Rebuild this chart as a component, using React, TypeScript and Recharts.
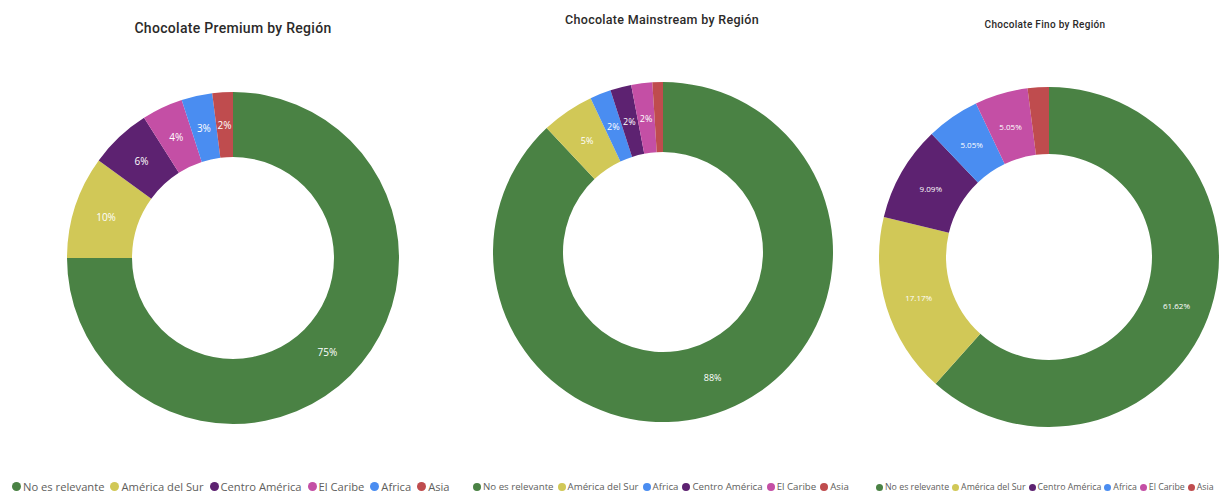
import React from 'react';
import { PieChart, Pie, Cell } from 'recharts';

// region names, in the order each chart lists them
const premiumRegions = ['No es relevante', 'América del Sur', 'Centro América', 'El Caribe', 'Africa', 'Asia'];
const mainstreamRegions = ['No es relevante', 'América del Sur', 'Africa', 'Centro América', 'El Caribe', 'Asia'];
const finoRegions = ['No es relevante', 'América del Sur', 'Centro América', 'Africa', 'El Caribe', 'Asia'];

// shares (%)
const premiumValues = [75, 10, 6, 4, 3, 2];
const mainstreamValues = [88, 5, 2, 2, 2, 1];
const finoValues = [61.62, 17.17, 9.09, 5.05, 5.05, 2.02];

const regionColors: Record<string, string> = {
  'No es relevante': '#4A8244',
  'América del Sur': '#D1C857',
  'Centro América': '#5D2271',
  'El Caribe': '#C44FA5',
  'Africa': '#4A8DF1',
  'Asia': '#BF4C4E',
};

const RADIAN = Math.PI / 180;

const toRows = (names: string[], values: number[]) => names.map((name, i) => ({ name, value: values[i] }));

function makeLabel(fontSize: number, minPct: number, decimals: number) {
  return (props: any) => {
    const { cx, cy, midAngle, innerRadius, outerRadius, percent } = props;
    if (percent * 100 < minPct) return null;
    const r = (innerRadius + outerRadius) / 2;
    const x = cx + r * Math.cos(-midAngle * RADIAN);
    const y = cy + r * Math.sin(-midAngle * RADIAN);
    return (
      <text x={x} y={y} fill="#fff" fontSize={fontSize} fontFamily="Open Sans" textAnchor="middle" dominantBaseline="central">
        {(percent * 100).toFixed(decimals)}%
      </text>
    );
  };
}

function Legend({ names, left, top, fontSize, dot, gap }: { names: string[]; left: number; top: number; fontSize: number; dot: number; gap: number }) {
  return (
    <div style={{ position: 'absolute', left, top, display: 'flex', alignItems: 'center', fontFamily: 'Open Sans', fontSize, color: '#605E5C', whiteSpace: 'nowrap' }}>
      {names.map(n => (
        <span key={n} style={{ display: 'flex', alignItems: 'center', marginRight: gap }}>
          <span style={{ width: dot, height: dot, borderRadius: '50%', background: regionColors[n], marginRight: 2, display: 'inline-block' }} />
          {n}
        </span>
      ))}
    </div>
  );
}

function Title({ text, cx, top, fontSize }: { text: string; cx: number; top: number; fontSize: number }) {
  return (
    <div style={{ position: 'absolute', left: cx - 200, width: 400, top, textAlign: 'center', fontFamily: 'Roboto', fontWeight: 500, fontSize, color: '#2B2A29', letterSpacing: 0.3 }}>
      {text}
    </div>
  );
}

export default function App() {
  const premium = toRows(premiumRegions, premiumValues);
  const mainstream = toRows(mainstreamRegions, mainstreamValues);
  const fino = toRows(finoRegions, finoValues);

  return (
    <div style={{ position: 'absolute', left: 0, top: 0, width: 1221, height: 494, background: '#fff', overflow: 'hidden' }}>
      <PieChart width={1221} height={494} margin={{ top: 0, right: 0, bottom: 0, left: 0 }}>
        <Pie data={premium} dataKey="value" cx={233} cy={258} innerRadius={101} outerRadius={166}
          startAngle={90} endAngle={-270} stroke="none" labelLine={false} label={makeLabel(10, 0, 0)} isAnimationActive={false}>
          {premium.map(d => <Cell key={d.name} fill={regionColors[d.name]} />)}
        </Pie>
        <Pie data={mainstream} dataKey="value" cx={663} cy={252} innerRadius={100} outerRadius={170}
          startAngle={90} endAngle={-270} stroke="none" labelLine={false} label={makeLabel(9, 1.5, 0)} isAnimationActive={false}>
          {mainstream.map(d => <Cell key={d.name} fill={regionColors[d.name]} />)}
        </Pie>
        <Pie data={fino} dataKey="value" cx={1049} cy={257} innerRadius={103} outerRadius={170}
          startAngle={90} endAngle={-270} stroke="none" labelLine={false} label={makeLabel(8, 3, 2)} isAnimationActive={false}>
          {fino.map(d => <Cell key={d.name} fill={regionColors[d.name]} />)}
        </Pie>
      </PieChart>

      <Title text="Chocolate Premium by Región" cx={233} top={20} fontSize={14} />
      <Title text="Chocolate Mainstream by Región" cx={662} top={12} fontSize={12.5} />
      <Title text="Chocolate Fino by Región" cx={1045} top={19} fontSize={10} />

      <Legend names={premiumRegions} left={12} top={479} fontSize={11.2} dot={9} gap={6} />
      <Legend names={mainstreamRegions} left={473} top={480} fontSize={9.7} dot={8} gap={4} />
      <Legend names={finoRegions} left={876} top={481} fontSize={8.8} dot={7} gap={3} />
    </div>
  );
}
